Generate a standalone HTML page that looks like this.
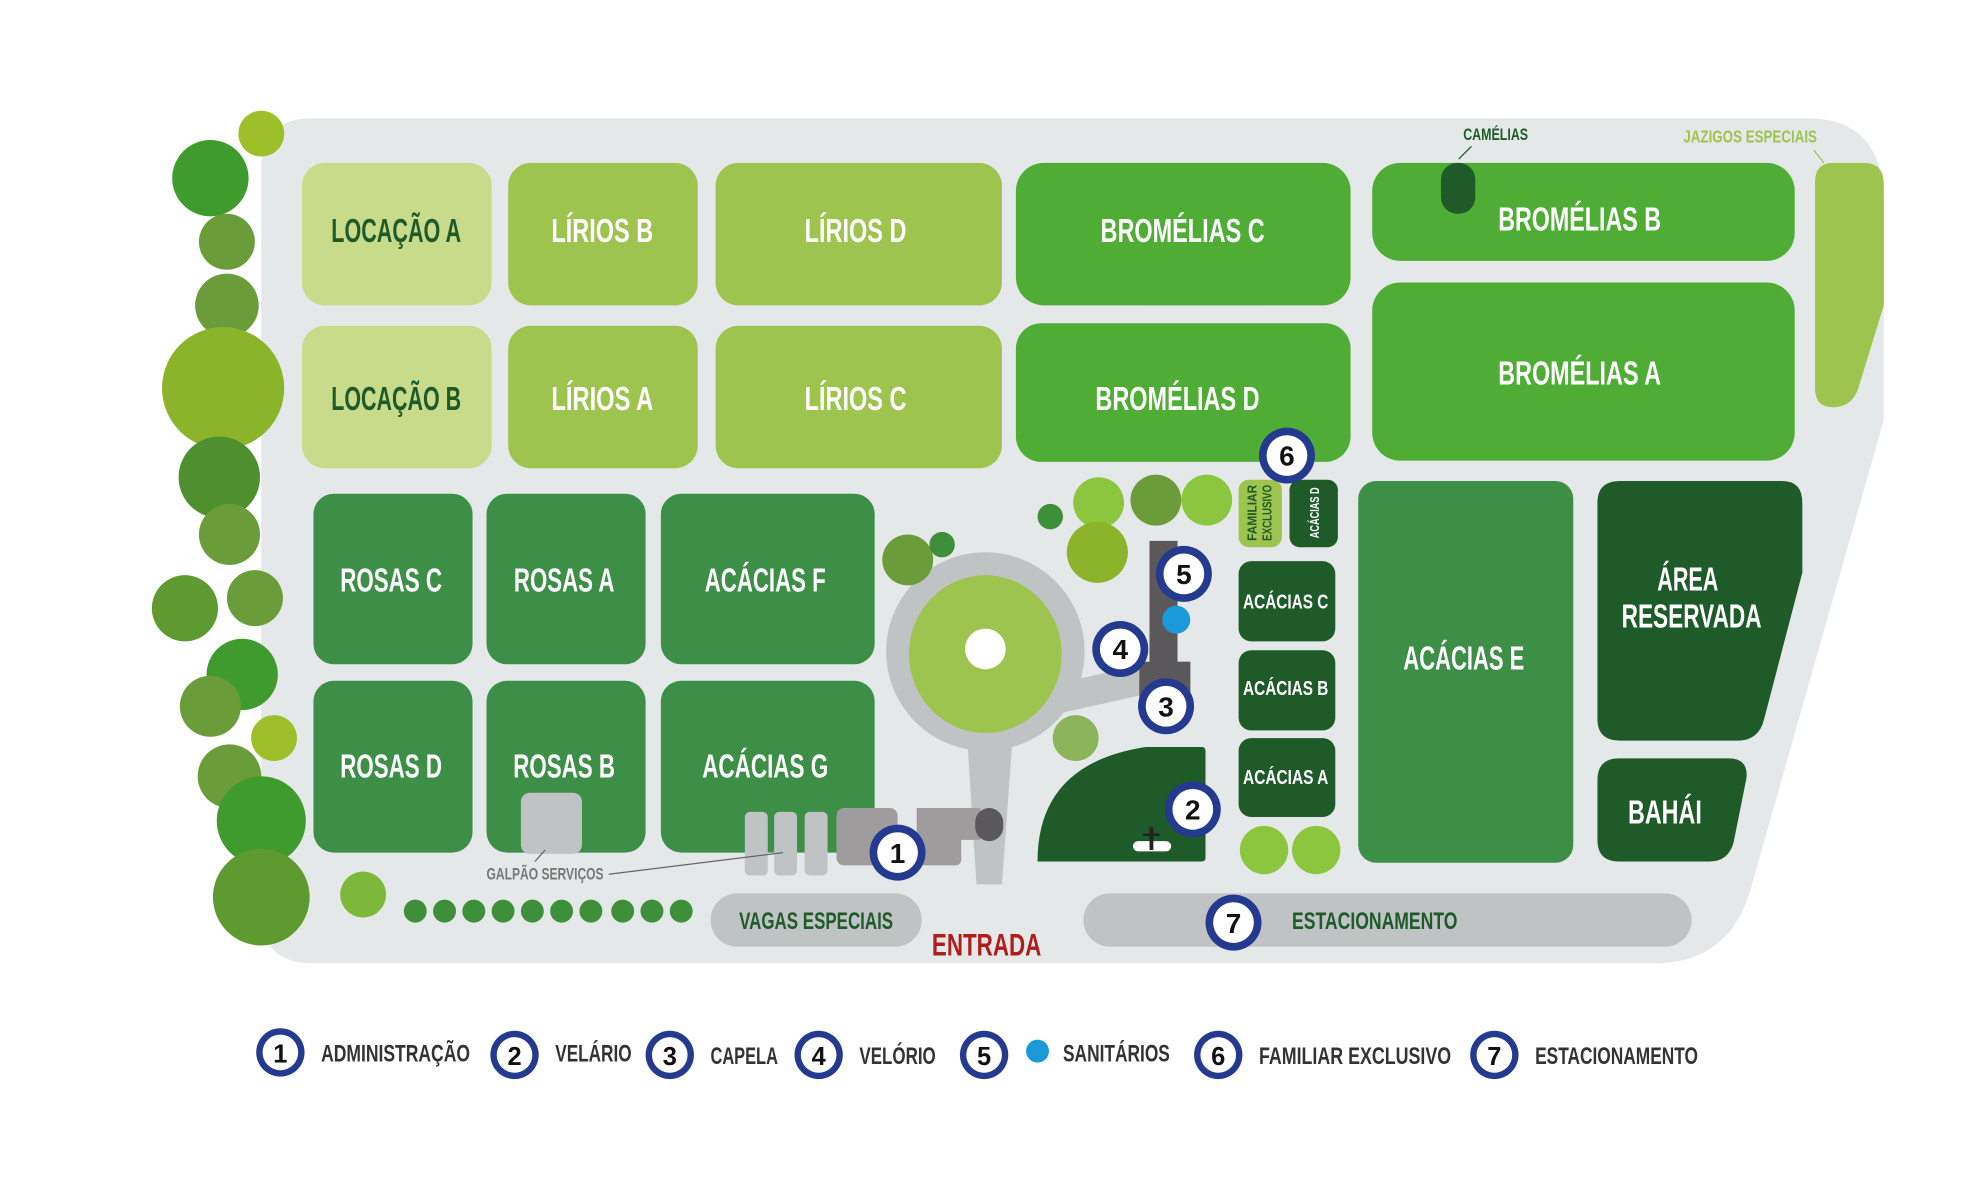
<!DOCTYPE html>
<html><head><meta charset="utf-8"><style>
html,body{margin:0;padding:0;background:#fff;}
svg{display:block;}
text{font-family:"Liberation Sans Narrow","Liberation Sans",sans-serif;font-weight:bold;}
</style></head><body>
<svg width="1986" height="1186" viewBox="0 0 1560 932" xmlns="http://www.w3.org/2000/svg">
<defs>
<g id="m"><circle r="22" fill="#233a8f"/><circle r="16" fill="#fff"/></g>
<g id="lm"><circle r="19" fill="#233a8f"/><circle r="14" fill="#fff"/></g>
</defs>
<path d="M235,93 H1420 Q1480,93 1480,160 V330 L1375,700 Q1358,757 1300,757 H245 Q205,757 205,717 V133 Q205,93 245,93 Z" fill="#e5e8e8"/>

<rect x="237" y="128" width="149" height="112" rx="18" fill="#c8db8a"/>
<rect x="399" y="128" width="149" height="112" rx="18" fill="#9dc44f"/>
<rect x="562" y="128" width="225" height="112" rx="18" fill="#9dc44f"/>
<rect x="798" y="128" width="263" height="112" rx="22" fill="#4fad35"/>
<rect x="1078" y="128" width="332" height="77" rx="22" fill="#4fad35"/>
<rect x="1132" y="128" width="27" height="40" rx="13" fill="#1f5a29"/>
<path d="M1440,128 H1465 Q1480,128 1480,145 V240 L1460,305 Q1455,320 1440,320 Q1426,320 1426,305 V143 Q1426,128 1440,128 Z" fill="#9dc44f"/>
<rect x="237" y="256" width="149" height="112" rx="18" fill="#c8db8a"/>
<rect x="399" y="256" width="149" height="112" rx="18" fill="#9dc44f"/>
<rect x="562" y="256" width="225" height="112" rx="18" fill="#9dc44f"/>
<rect x="798" y="254" width="263" height="109" rx="20" fill="#4fad35"/>
<rect x="1078" y="222" width="332" height="140" rx="22" fill="#4fad35"/>
<rect x="246" y="388" width="125" height="134" rx="16" fill="#3d8f47"/>
<rect x="382" y="388" width="125" height="134" rx="16" fill="#3d8f47"/>
<rect x="519" y="388" width="168" height="134" rx="16" fill="#3d8f47"/>
<rect x="246" y="535" width="125" height="135" rx="16" fill="#3d8f47"/>
<rect x="382" y="535" width="125" height="135" rx="16" fill="#3d8f47"/>
<rect x="519" y="535" width="168" height="135" rx="16" fill="#3d8f47"/>
<rect x="409" y="623" width="48" height="48" rx="7" fill="#c0c3c4"/>

<rect x="973" y="377" width="34" height="53" rx="8" fill="#9dc44f"/>
<rect x="1013" y="377" width="38" height="53" rx="8" fill="#1f5a29"/>
<rect x="973" y="441" width="76" height="63" rx="10" fill="#1f5a29"/>
<rect x="973" y="511" width="76" height="63" rx="10" fill="#1f5a29"/>
<rect x="973" y="580" width="76" height="62" rx="10" fill="#1f5a29"/>
<rect x="1067" y="378" width="169" height="300" rx="14" fill="#3d8f47"/>
<path d="M1273,378 H1400 Q1416,378 1416,395 V450 L1386,565 Q1382,582 1365,582 H1273 Q1255,582 1255,565 V395 Q1255,378 1273,378 Z" fill="#1f5a29"/>
<path d="M1272,596 H1358 Q1374,596 1372,612 L1362,662 Q1358,677 1343,677 H1272 Q1255,677 1255,660 V613 Q1255,596 1272,596 Z" fill="#1f5a29"/>

<path d="M760,585 L767,695 H787 L795,585 Z" fill="#c0c3c4"/>
<path d="M840,535 L900,522 L902,545 L835,560 Z" fill="#c0c3c4"/>
<circle cx="774" cy="512" r="78" fill="#c0c3c4"/>
<ellipse cx="774" cy="514" rx="60" ry="62" fill="#9dc44f"/>
<circle cx="774" cy="510" r="16" fill="#fff"/>
<path d="M903,425 H925 V520 H935 V553 H895 V535 H903 Z" fill="#5a585b"/>
<path d="M895,520 H935 V553 H895 Z" fill="#5a585b"/>
<circle cx="924" cy="487" r="11" fill="#1a9ad9"/>
<path d="M815,677 Q815,600 900,587 H944 Q947,587 947,590 V674 Q947,677 944,677 Z" fill="#1f5a29"/>
<rect x="890" y="661" width="30" height="8" rx="4" fill="#fff"/>
<rect x="903" y="650" width="3" height="18" fill="#222"/><rect x="898" y="655" width="13" height="2" fill="#222"/>
<rect x="585" y="638" width="18" height="50" rx="4" fill="#c0c3c4"/>
<rect x="608" y="638" width="18" height="50" rx="4" fill="#c0c3c4"/>
<rect x="632" y="638" width="18" height="50" rx="4" fill="#c0c3c4"/>
<rect x="657" y="635" width="48" height="45" rx="6" fill="#a09c9e"/>
<path d="M720,635 H770 V660 H755 V675 Q755,680 750,680 H720 Z" fill="#a09c9e"/>
<rect x="766" y="635" width="22" height="26" rx="11" fill="#5a585b"/>
<line x1="478" y1="687" x2="615" y2="670" stroke="#666" stroke-width="1"/>
<line x1="420" y1="677" x2="428" y2="668" stroke="#666" stroke-width="1"/>
<line x1="1146" y1="125" x2="1156" y2="115" stroke="#1f5a29" stroke-width="1"/>
<line x1="1425" y1="118" x2="1433" y2="128" stroke="#9dc44f" stroke-width="1"/>

<rect x="558" y="702" width="166" height="42" rx="21" fill="#c0c3c4"/>
<rect x="851" y="702" width="478" height="42" rx="21" fill="#c0c3c4"/>

<g>
<circle cx="205" cy="105" r="18" fill="#9cbf2a"/>
<circle cx="165" cy="140" r="30" fill="#3f9b2e"/>
<circle cx="178" cy="190" r="22" fill="#6a9c3a"/>
<circle cx="178" cy="240" r="25" fill="#6a9c3a"/>
<circle cx="175" cy="305" r="48" fill="#8cb42a"/>
<circle cx="172" cy="375" r="32" fill="#4e8f2e"/>
<circle cx="180" cy="420" r="24" fill="#6a9c3a"/>
<circle cx="145" cy="478" r="26" fill="#5e9a30"/>
<circle cx="200" cy="470" r="22" fill="#6a9c3a"/>
<circle cx="190" cy="530" r="28" fill="#3f9b2e"/>
<circle cx="165" cy="555" r="24" fill="#6a9c3a"/>
<circle cx="215" cy="580" r="18" fill="#9cbf2a"/>
<circle cx="180" cy="610" r="25" fill="#6a9c3a"/>
<circle cx="205" cy="645" r="35" fill="#3f9b2e"/>
<circle cx="205" cy="705" r="38" fill="#5e9a30"/>
<circle cx="285" cy="703" r="18" fill="#7cb83a"/>
</g>
<g fill="#3d8f3a">
<circle cx="326" cy="716" r="9"/><circle cx="349" cy="716" r="9"/><circle cx="372" cy="716" r="9"/><circle cx="395" cy="716" r="9"/><circle cx="418" cy="716" r="9"/><circle cx="441" cy="716" r="9"/><circle cx="464" cy="716" r="9"/><circle cx="489" cy="716" r="9"/><circle cx="512" cy="716" r="9"/><circle cx="535" cy="716" r="9"/>
</g>
<circle cx="713" cy="440" r="20" fill="#6a9c3a"/>
<circle cx="740" cy="428" r="10" fill="#3d8f3a"/>
<circle cx="825" cy="406" r="10" fill="#3d8f3a"/>
<circle cx="863" cy="395" r="20" fill="#8cc63f"/>
<circle cx="908" cy="393" r="20" fill="#6a9c3a"/>
<circle cx="948" cy="393" r="20" fill="#8cc63f"/>
<circle cx="862" cy="434" r="24" fill="#8cb42a"/>
<circle cx="845" cy="580" r="18" fill="#8cb45a"/>
<circle cx="993" cy="668" r="19" fill="#8cc63f"/>
<circle cx="1034" cy="668" r="19" fill="#8cc63f"/>

<g font-size="26" text-anchor="middle" fill="#fff" lengthAdjust="spacingAndGlyphs">
<text x="311" y="190" fill="#1f5a29" textLength="102" lengthAdjust="spacingAndGlyphs">LOCAÇÃO A</text>
<text x="473" y="190" textLength="80" lengthAdjust="spacingAndGlyphs">LÍRIOS B</text>
<text x="672" y="190" textLength="80" lengthAdjust="spacingAndGlyphs">LÍRIOS D</text>
<text x="929" y="190" textLength="129" lengthAdjust="spacingAndGlyphs">BROMÉLIAS C</text>
<text x="1241" y="181" textLength="128" lengthAdjust="spacingAndGlyphs">BROMÉLIAS B</text>
<text x="311" y="322" fill="#1f5a29" textLength="102" lengthAdjust="spacingAndGlyphs">LOCAÇÃO B</text>
<text x="473" y="322" textLength="80" lengthAdjust="spacingAndGlyphs">LÍRIOS A</text>
<text x="672" y="322" textLength="80" lengthAdjust="spacingAndGlyphs">LÍRIOS C</text>
<text x="925" y="322" textLength="129" lengthAdjust="spacingAndGlyphs">BROMÉLIAS D</text>
<text x="1241" y="302" textLength="128" lengthAdjust="spacingAndGlyphs">BROMÉLIAS A</text>
<text x="307" y="465" textLength="80" lengthAdjust="spacingAndGlyphs">ROSAS C</text>
<text x="443" y="465" textLength="79" lengthAdjust="spacingAndGlyphs">ROSAS A</text>
<text x="601" y="465" textLength="95" lengthAdjust="spacingAndGlyphs">ACÁCIAS F</text>
<text x="307" y="611" textLength="80" lengthAdjust="spacingAndGlyphs">ROSAS D</text>
<text x="443" y="611" textLength="80" lengthAdjust="spacingAndGlyphs">ROSAS B</text>
<text x="601" y="611" textLength="99" lengthAdjust="spacingAndGlyphs">ACÁCIAS G</text>
<text x="1150" y="526" textLength="95" lengthAdjust="spacingAndGlyphs">ACÁCIAS E</text>
<text x="1326" y="464" textLength="48" lengthAdjust="spacingAndGlyphs">ÁREA</text>
<text x="1329" y="493" textLength="110" lengthAdjust="spacingAndGlyphs">RESERVADA</text>
<text x="1308" y="647" textLength="58" lengthAdjust="spacingAndGlyphs">BAHÁI</text>
</g>
<g font-size="16" text-anchor="middle" fill="#fff">
<text x="1010" y="478" textLength="67" lengthAdjust="spacingAndGlyphs">ACÁCIAS C</text>
<text x="1010" y="546" textLength="67" lengthAdjust="spacingAndGlyphs">ACÁCIAS B</text>
<text x="1010" y="616" textLength="67" lengthAdjust="spacingAndGlyphs">ACÁCIAS A</text>
</g>
<text font-size="10" fill="#fff" text-anchor="middle" transform="translate(1036,403) rotate(-90)" textLength="40" lengthAdjust="spacingAndGlyphs">ACÁCIAS D</text>
<text font-size="10" fill="#1f5a29" text-anchor="middle" transform="translate(987,403) rotate(-90)" textLength="44" lengthAdjust="spacingAndGlyphs">FAMILIAR</text>
<text font-size="10" fill="#1f5a29" text-anchor="middle" transform="translate(999,403) rotate(-90)" textLength="44" lengthAdjust="spacingAndGlyphs">EXCLUSIVO</text>
<text x="1175" y="110" font-size="13" fill="#1f5a29" text-anchor="middle" textLength="51" lengthAdjust="spacingAndGlyphs">CAMÉLIAS</text>
<text x="1375" y="112" font-size="14" fill="#9dc44f" text-anchor="middle" textLength="105" lengthAdjust="spacingAndGlyphs">JAZIGOS ESPECIAIS</text>
<text x="428" y="691" font-size="13" fill="#777" text-anchor="middle" textLength="92" lengthAdjust="spacingAndGlyphs">GALPÃO SERVIÇOS</text>
<text x="641" y="730" font-size="19" fill="#1f5a29" text-anchor="middle" textLength="121" lengthAdjust="spacingAndGlyphs">VAGAS ESPECIAIS</text>
<text x="1080" y="730" font-size="19" fill="#1f5a29" text-anchor="middle" textLength="130" lengthAdjust="spacingAndGlyphs">ESTACIONAMENTO</text>
<text x="775" y="751" font-size="25" fill="#b01c1c" text-anchor="middle" textLength="86" lengthAdjust="spacingAndGlyphs">ENTRADA</text>

<g font-size="22" text-anchor="middle" fill="#111">
<use href="#m" x="1011" y="358"/><text x="1011" y="366">6</text>
<use href="#m" x="930" y="451"/><text x="930" y="459">5</text>
<use href="#m" x="880" y="510"/><text x="880" y="518">4</text>
<use href="#m" x="916" y="555"/><text x="916" y="563">3</text>
<use href="#m" x="937" y="636"/><text x="937" y="644">2</text>
<use href="#m" x="705" y="670"/><text x="705" y="678">1</text>
<use href="#m" x="969" y="725"/><text x="969" y="733">7</text>
</g>

<g font-size="20" text-anchor="middle" fill="#111">
<use href="#lm" x="220" y="827"/><text x="220" y="835">1</text>
<use href="#lm" x="404" y="829"/><text x="404" y="837">2</text>
<use href="#lm" x="526" y="829"/><text x="526" y="837">3</text>
<use href="#lm" x="643" y="829"/><text x="643" y="837">4</text>
<use href="#lm" x="773" y="829"/><text x="773" y="837">5</text>
<use href="#lm" x="957" y="829"/><text x="957" y="837">6</text>
<use href="#lm" x="1174" y="829"/><text x="1174" y="837">7</text>
</g>
<circle cx="815" cy="826" r="9" fill="#1a9ad9"/>
<g font-size="19" fill="#333" style="font-weight:normal">
<text x="252" y="834" textLength="117" lengthAdjust="spacingAndGlyphs">ADMINISTRAÇÃO</text>
<text x="436" y="834" textLength="60" lengthAdjust="spacingAndGlyphs">VELÁRIO</text>
<text x="558" y="836" textLength="53" lengthAdjust="spacingAndGlyphs">CAPELA</text>
<text x="675" y="836" textLength="60" lengthAdjust="spacingAndGlyphs">VELÓRIO</text>
<text x="835" y="834" textLength="84" lengthAdjust="spacingAndGlyphs">SANITÁRIOS</text>
<text x="989" y="836" textLength="151" lengthAdjust="spacingAndGlyphs">FAMILIAR EXCLUSIVO</text>
<text x="1206" y="836" textLength="128" lengthAdjust="spacingAndGlyphs">ESTACIONAMENTO</text>
</g>
</svg>
</body></html>
